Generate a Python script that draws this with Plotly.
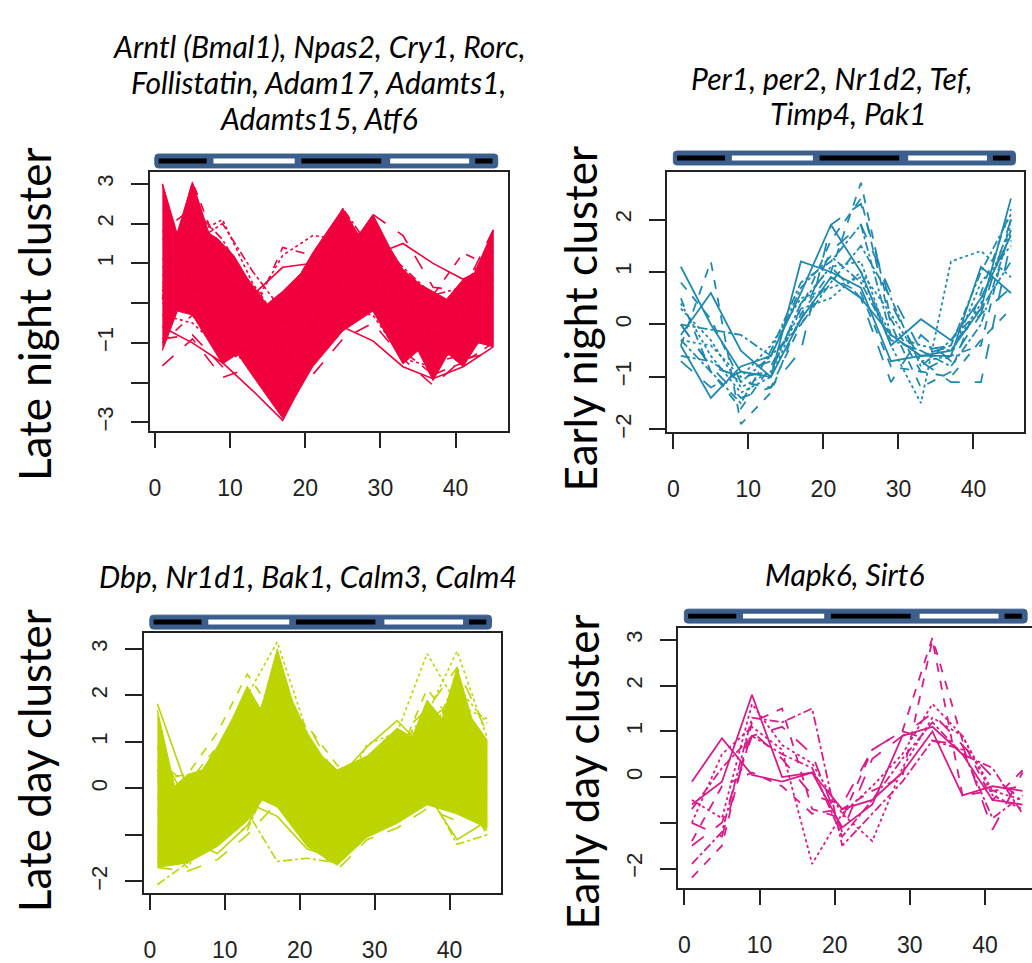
import plotly.graph_objects as go

W, H = 1032, 963

# ---------------- data ----------------
T = [1, 5, 9, 13, 17, 21, 25, 29, 33, 37, 41, 45]

# Late night cluster: dense core band + individual profiles
red_upper_x = [1, 2.9, 5, 7.2, 8.3, 10.5, 12.3, 14.9, 17, 19.4, 21.1, 25, 27.1, 29, 31.3, 33, 35.3, 37, 38.8, 41, 42.4, 45]
red_upper_y = [3.0, 1.72, 3.05, 1.76, 1.63, 1.2, 0.63, -0.03, 0.3, 0.75, 1.3, 2.38, 1.72, 2.23, 1.38, 0.85, 0.47, 0.3, 0.1, 0.6, 0.72, 1.84]
red_lower_x = [1, 3, 5, 9, 11, 13, 17, 21, 25, 29, 33, 35, 37, 39, 41, 43, 45]
red_lower_y = [-1.2, -0.2, -0.3, -1.53, -1.28, -1.83, -2.9, -1.6, -0.7, -0.2, -1.53, -1.2, -1.95, -1.28, -1.6, -1.0, -1.1]
red_lines = [
    [3.0, 0.4, 0.1, -0.5, -1.4, -0.6, 0.6, 0.9, -0.2, -0.9, -0.7, 0.4],
    [0.1, 3.05, 1.1, -0.2, -1.1, -0.4, 0.8, 1.1, 0.0, -0.6, -0.5, 0.6],
    [1.6, 1.7, 2.1, 0.5, -0.6, 0.2, 1.2, 0.7, 0.1, -0.6, -0.3, 0.4],
    [0.3, 1.5, 2.0, 0.8, -0.2, 1.1, 1.5, 0.6, -0.4, -0.8, -0.6, 0.2],
    [-1.58, -0.9, -1.87, -1.6, -2.5, -1.8, -0.9, -0.5, -1.4, -2.07, -1.4, -1.25],
    [-0.6, -1.0, -1.5, -2.2, -2.95, -1.5, -0.6, -0.95, -1.6, -1.9, -1.6, -1.1],
    [0.5, 0.6, -0.4, -0.3, 1.4, 1.2, 1.5, 0.6, -0.3, -0.6, -0.5, 0.1],
    [0.2, 0.4, -0.6, -0.1, 1.2, 1.7, 1.6, 0.9, 0.0, -0.8, -0.4, 0.3],
    [0.9, 1.0, 0.2, -0.8, -1.0, 0.4, 2.38, 1.3, 0.6, -0.2, -0.3, 0.7],
    [1.1, 1.3, 0.4, -0.6, -1.2, -0.1, 1.0, 2.23, 1.7, 0.4, 0.3, 1.84],
    [0.4, 0.6, -0.2, -0.9, -1.6, -0.5, 0.7, 1.2, 1.5, 1.0, 0.6, 1.0],
    [0.0, -0.2, -1.0, -1.3, -2.0, -0.9, 0.3, 0.8, 0.4, 0.2, 1.26, 0.9],
    [-0.3, -0.5, -1.2, -1.5, -2.3, -1.3, -0.2, -0.3, -1.4, -1.6, -1.0, 1.2],
    [1.8, 2.4, 1.6, 0.3, -0.5, 0.5, 1.8, 1.7, 0.9, 0.2, 0.4, 1.5],
    [-0.9, -0.8, -1.6, -1.0, -1.8, -1.1, 0.1, 0.2, -0.9, -1.5, -1.3, -0.7],
    [0.7, 0.9, 0.6, 0.2, 0.9, 1.0, 1.9, 1.4, 0.4, 0.0, 0.1, 1.3],
    [-1.0, -0.3, -1.3, -1.2, -2.6, -1.4, -0.4, -0.2, -1.2, -1.8, -1.5, -1.0],
]

# Early night cluster profiles
blue_lines = [
    [1.1, 0.0, -0.9, -1.0, 0.1, 0.9, 0.5, -0.2, -0.6, -0.5, 0.3, 2.4],
    [-0.4, 1.2, -1.9, -1.3, 0.2, 1.0, 2.7, 0.1, -0.9, -0.6, -0.4, 2.0],
    [0.3, -0.3, -1.2, -0.9, 0.4, 1.1, 1.2, -0.4, -1.5, 1.2, 1.4, 0.9],
    [-0.6, -0.7, -1.1, -0.6, 0.7, 1.3, 0.8, -0.3, -0.5, -0.8, 0.0, 1.8],
    [0.0, -0.8, -1.4, -1.2, -0.5, 1.9, 2.3, 0.4, -0.7, -1.1, -1.1, 1.6],
    [-0.2, 0.6, -0.5, -1.0, 1.2, 1.0, 0.7, -0.7, -0.6, -0.6, 1.1, 0.6],
    [0.5, -0.9, -1.6, -0.8, 0.3, 1.6, 2.4, 0.0, -1.2, -0.9, 0.6, 2.2],
    [-0.3, -0.4, -1.0, -0.4, 0.5, 0.7, 0.9, -0.2, -0.4, -0.5, 0.4, 1.9],
    [0.0, -0.1, -0.2, -0.6, 0.0, 0.8, 1.5, 0.5, -0.8, -0.3, 0.3, 1.2],
    [-0.7, -1.2, -0.9, -0.7, 0.1, 1.4, 1.9, 0.6, -0.5, -0.4, 0.2, 2.0],
    [-0.4, -1.4, -0.8, -0.6, 0.6, 1.9, 1.0, -0.4, 0.1, -0.3, 0.5, 1.7],
    [0.8, 0.1, -1.1, -1.2, 0.0, 0.9, 0.6, -0.8, -0.9, -1.0, -0.3, 0.3],
    [0.4, -0.6, -1.3, -1.0, 0.3, 0.5, 1.0, 0.2, -0.7, -0.6, 0.8, 1.5],
    [-0.3, -0.9, -1.5, -0.5, 0.8, 1.2, 1.9, -0.2, -0.6, -0.4, 1.0, 2.1],
    [0.0, -0.8, -1.0, -0.9, 0.4, 1.1, 0.5, -1.1, -0.2, -0.7, 0.2, 0.7],
]

# Late day cluster: dense core band + individual profiles
green_upper_x = [1, 3.3, 5, 7, 9, 11, 13, 14.8, 17, 19, 21, 23, 25, 29, 33, 35, 37, 39, 41, 43, 45]
green_upper_y = [1.7, 0.05, 0.3, 0.4, 0.9, 1.5, 2.2, 1.7, 3.0, 1.9, 1.2, 0.7, 0.4, 0.7, 1.3, 1.1, 1.9, 1.5, 2.6, 1.5, 1.05]
green_lower_x = [1, 5, 9, 13, 15, 17, 21, 25, 29, 33, 37, 41, 45]
green_lower_y = [-1.7, -1.6, -1.25, -0.7, -0.25, -0.4, -1.25, -1.65, -1.05, -0.75, -0.35, -0.55, -0.85]
green_lines = [
    [1.82, 0.0, 0.5, 1.3, 2.2, 1.0, -0.3, 0.2, 0.8, 1.2, 1.5, 0.6],
    [0.2, 0.3, 1.2, 2.46, 1.5, 0.6, -0.5, 0.3, 1.0, 1.4, 2.0, 0.9],
    [-0.5, -0.2, 0.8, 2.0, 3.15, 1.2, -0.2, 0.5, 0.9, 1.6, 2.95, 1.1],
    [-2.07, -1.6, -1.0, -0.5, -1.57, -1.5, -1.6, -0.9, -0.4, 0.0, -1.2, -1.0],
    [-1.7, -1.78, -1.53, -1.0, -0.3, -1.1, -1.75, -1.1, -0.85, -0.43, -0.7, -0.4],
    [0.9, -0.3, 0.0, 1.0, 2.6, 0.9, 0.2, 0.9, 1.46, 0.8, 1.0, 0.3],
    [-0.8, -1.0, -0.3, 0.5, 1.8, 1.35, 0.5, 0.1, 0.6, 2.14, 1.3, 0.5],
    [-1.2, -0.8, -0.4, 0.3, 2.0, 0.7, -0.3, 0.95, 1.2, 2.9, 1.8, 1.5],
    [-1.3, -1.2, -0.7, 0.2, 1.3, -0.2, -1.0, -0.6, 0.1, 0.9, 2.4, 0.2],
    [0.4, -0.9, -0.5, 0.7, 2.8, 0.4, -0.8, -0.3, 0.4, 1.1, 1.6, -0.5],
    [-1.5, -1.4, -1.0, -0.3, -0.6, -1.3, -1.5, -0.8, -0.2, 0.3, -0.3, -0.9],
    [0.6, 0.1, 0.9, 1.8, 1.0, 0.3, -0.4, -0.1, 0.4, 1.8, 0.5, -0.2],
    [-0.2, -0.6, 0.2, 1.2, 2.4, 1.1, -0.6, 0.0, 0.7, 1.0, 2.2, 1.4],
    [-1.0, -1.7, -0.8, -0.9, 0.6, -0.5, -1.3, -0.5, 0.2, 0.6, 0.2, -1.0],
    [0.3, -0.5, 0.6, 1.6, 1.2, 1.4, 0.2, 0.4, 1.1, 1.7, 2.6, 1.2],
    [-1.6, -1.1, -1.4, -0.8, 0.4, -1.0, -1.4, -0.7, -0.5, -0.1, -1.1, -0.7],
]

# Early day cluster profiles
magenta_lines = [
    [-0.1, 0.85, 0.05, -0.1, 0.1, -0.7, -0.5, 0.1, 1.0, -0.4, -0.2, -0.3],
    [-2.2, -1.5, 1.2, 1.5, -0.7, -0.9, 0.6, 1.0, 3.05, 0.8, -0.5, 0.15],
    [-1.0, 0.5, 1.1, 0.6, -1.9, -0.8, -0.2, 0.5, 1.6, 0.9, -0.4, -0.7],
    [-1.9, -1.2, 1.3, 1.2, 1.5, -1.5, -0.8, -0.1, 0.8, 0.6, -0.9, -0.4],
    [-1.0, -1.3, 1.0, 0.4, -0.4, -0.6, 0.6, 1.0, 0.8, 0.7, -1.15, 0.1],
    [-0.6, -0.1, 1.8, 0.0, 0.1, -1.1, -0.6, 0.9, 1.1, 0.5, -0.5, -0.6],
    [-1.4, -0.2, 0.1, -0.2, -0.8, -0.7, -0.3, 0.0, 3.0, -0.4, -0.3, -0.2],
    [-0.5, -0.9, 1.6, 0.7, 0.3, -0.8, -1.4, 0.2, 1.3, 0.9, -0.3, -0.5],
    [-0.7, 0.2, 0.9, 0.5, 0.2, -1.3, -0.5, 0.4, 1.2, 0.5, 0.2, -0.8],
    [-1.5, -1.0, 0.9, 1.1, 0.5, -1.2, 0.4, 0.9, 1.4, 0.7, 0.0, -0.5],
]

x_ticks = [0, 10, 20, 30, 40]
cluster_names = ["Late night cluster", "Early night cluster", "Late day cluster", "Early day cluster"]
gene_titles = [
    ["Arntl (Bmal1), Npas2, Cry1, Rorc,", "Follistatin, Adam17, Adamts1,", "Adamts15, Atf6"],
    ["Per1, per2, Nr1d2, Tef,", "Timp4, Pak1"],
    ["Dbp, Nr1d1, Bak1, Calm3, Calm4"],
    ["Mapk6, Sirt6"],
]
y_tickvals = [[-3, -2, -1, 0, 1, 2, 3], [-2, -1, 0, 1, 2], [-2, -1, 0, 1, 2, 3], [-2, -1, 0, 1, 2, 3]]
y_ticktext = [["\u22123", "", "\u22121", "", "1", "2", "3"],
              ["\u22122", "\u22121", "0", "1", "2"],
              ["\u22122", "", "0", "1", "2", "3"],
              ["\u22122", "", "0", "1", "2", "3"]]
# light/dark bar: (start, end, colour) in time units
light_dark = [(0.5, 6.9, "black"), (7.8, 18.6, "white"), (19.5, 30.1, "black"),
              (31.3, 41.8, "white"), (42.6, 44.9, "black")]

# ---------------- styling / layout ----------------
RED, BLUE, GREEN, MAG = "#F0003C", "#2189AD", "#BCD400", "#D81B8A"
BAR = "#3B5E8C"
AX = "#222222"
DASHES = ["solid", "dash", "dot", "dashdot", "longdash"]

# panel pixel geometry: (left, right, top, bottom, xlo, xhi, ylo, yhi)
panels = [
    (149, 507, 173, 434, -0.66, 46.9, -3.225, 3.3),
    (667, 1024, 173, 435, -0.8, 46.74, -2.055, 2.907),
    (143, 500, 637, 899, -0.8, 46.8, -2.256, 3.342),
    (678, 1032, 632, 894, -0.8, 46.25, -2.435, 3.26),
]
bar_y = [(155, 169), (152, 166), (619, 633), (613, 627)]
title_pos = [(33, 316), (580, 321), (33, 765), (582, 777)]
gene_pos = [[(318, 46), (318, 83), (318, 119)], [(831, 78), (848, 114)], [(307, 580)], [(844, 578)]]

fx = lambda px: px / W
fy = lambda py: 1 - py / H

fig = go.Figure()


def add_band(k, ux, uy, lx, ly, color):
    fig.add_trace(go.Scatter(x=ux + lx[::-1], y=uy + ly[::-1], fill="toself", fillcolor=color,
                             mode="lines", line=dict(color=color, width=1),
                             xaxis=f"x{k}", yaxis=f"y{k}", hoverinfo="skip"))


def add_lines(k, lines, color, width=1.6):
    for i, vals in enumerate(lines):
        fig.add_trace(go.Scatter(x=T, y=vals, mode="lines",
                                 line=dict(color=color, width=width, dash=DASHES[i % 5]),
                                 xaxis=f"x{k}", yaxis=f"y{k}"))


add_band(1, red_upper_x, red_upper_y, red_lower_x, red_lower_y, RED)
add_lines(1, red_lines, RED)
add_lines(2, blue_lines, BLUE, 1.8)
add_band(3, green_upper_x, green_upper_y, green_lower_x, green_lower_y, GREEN)
add_lines(3, green_lines, GREEN)
add_lines(4, magenta_lines, MAG, 1.8)


def rounded_path(x0, x1, y0, y1, rx, ry):
    return (f"M {x0 + rx},{y1} L {x1 - rx},{y1} Q {x1},{y1} {x1},{y1 - ry} "
            f"L {x1},{y0 + ry} Q {x1},{y0} {x1 - rx},{y0} L {x0 + rx},{y0} "
            f"Q {x0},{y0} {x0},{y0 + ry} L {x0},{y1 - ry} Q {x0},{y1} {x0 + rx},{y1} Z")


layout = dict(width=W, height=H, margin=dict(l=0, r=0, t=0, b=0),
              paper_bgcolor="white", plot_bgcolor="white", showlegend=False)
shapes = []
annotations = []
for i, (l, r, t, b, xlo, xhi, ylo, yhi) in enumerate(panels):
    k = i + 1
    sx = "" if k == 1 else str(k)
    layout[f"xaxis{sx}"] = dict(domain=[fx(l), fx(r)], range=[xlo, xhi], anchor=f"y{sx}",
                                tickmode="array", tickvals=x_ticks, ticks="outside", ticklen=15,
                                tickwidth=1.5, tickcolor=AX, showline=True, linecolor=AX, linewidth=1.5,
                                mirror=True, showgrid=False, zeroline=False, ticklabelstandoff=20,
                                tickfont=dict(family="Liberation Sans, Arial", size=23, color=AX))
    layout[f"yaxis{sx}"] = dict(domain=[fy(b), fy(t)], range=[ylo, yhi], anchor=f"x{sx}",
                                tickmode="array", tickvals=y_tickvals[i], ticktext=y_ticktext[i],
                                ticks="outside", ticklen=17, tickwidth=1.5, tickcolor=AX, tickangle=-90,
                                showline=True, linecolor=AX, linewidth=1.5, mirror=(k != 4),
                                showgrid=False, zeroline=False, ticklabelstandoff=9,
                                tickfont=dict(family="Liberation Sans, Arial", size=22, color=AX))
    # light/dark bar (rounded outer frame)
    y0, y1 = bar_y[i]
    pxu = (r - l) / (xhi - xlo)
    shapes.append(dict(type="path", xref=f"x{k}", yref="paper",
                       path=rounded_path(0.0, 45.6, fy(y1), fy(y0), 3.5 / pxu, 3.5 / H),
                       fillcolor=BAR, line=dict(color=BAR, width=1), layer="above"))
    for (s, e, c) in light_dark:
        shapes.append(dict(type="rect", xref=f"x{k}", yref="paper", x0=s, x1=e,
                           y0=fy(y0 + 9.5), y1=fy(y0 + 4.5), fillcolor=c, line=dict(width=0), layer="above"))
    annotations.append(dict(text=cluster_names[i], x=fx(title_pos[i][0]), y=fy(title_pos[i][1]),
                            xref="paper", yref="paper", showarrow=False, textangle=-90,
                            xanchor="center", yanchor="middle",
                            font=dict(family="Lato", size=44, color="black")))
    for txt, (gx, gy) in zip(gene_titles[i], gene_pos[i]):
        annotations.append(dict(text=f"<i>{txt}</i>", x=fx(gx), y=fy(gy), xref="paper", yref="paper",
                                showarrow=False, xanchor="center", yanchor="middle",
                                font=dict(family="Lato", size=30, color="black")))

layout["shapes"] = shapes
layout["annotations"] = annotations
fig.update_layout(**layout)
fig.write_html("out.html")
